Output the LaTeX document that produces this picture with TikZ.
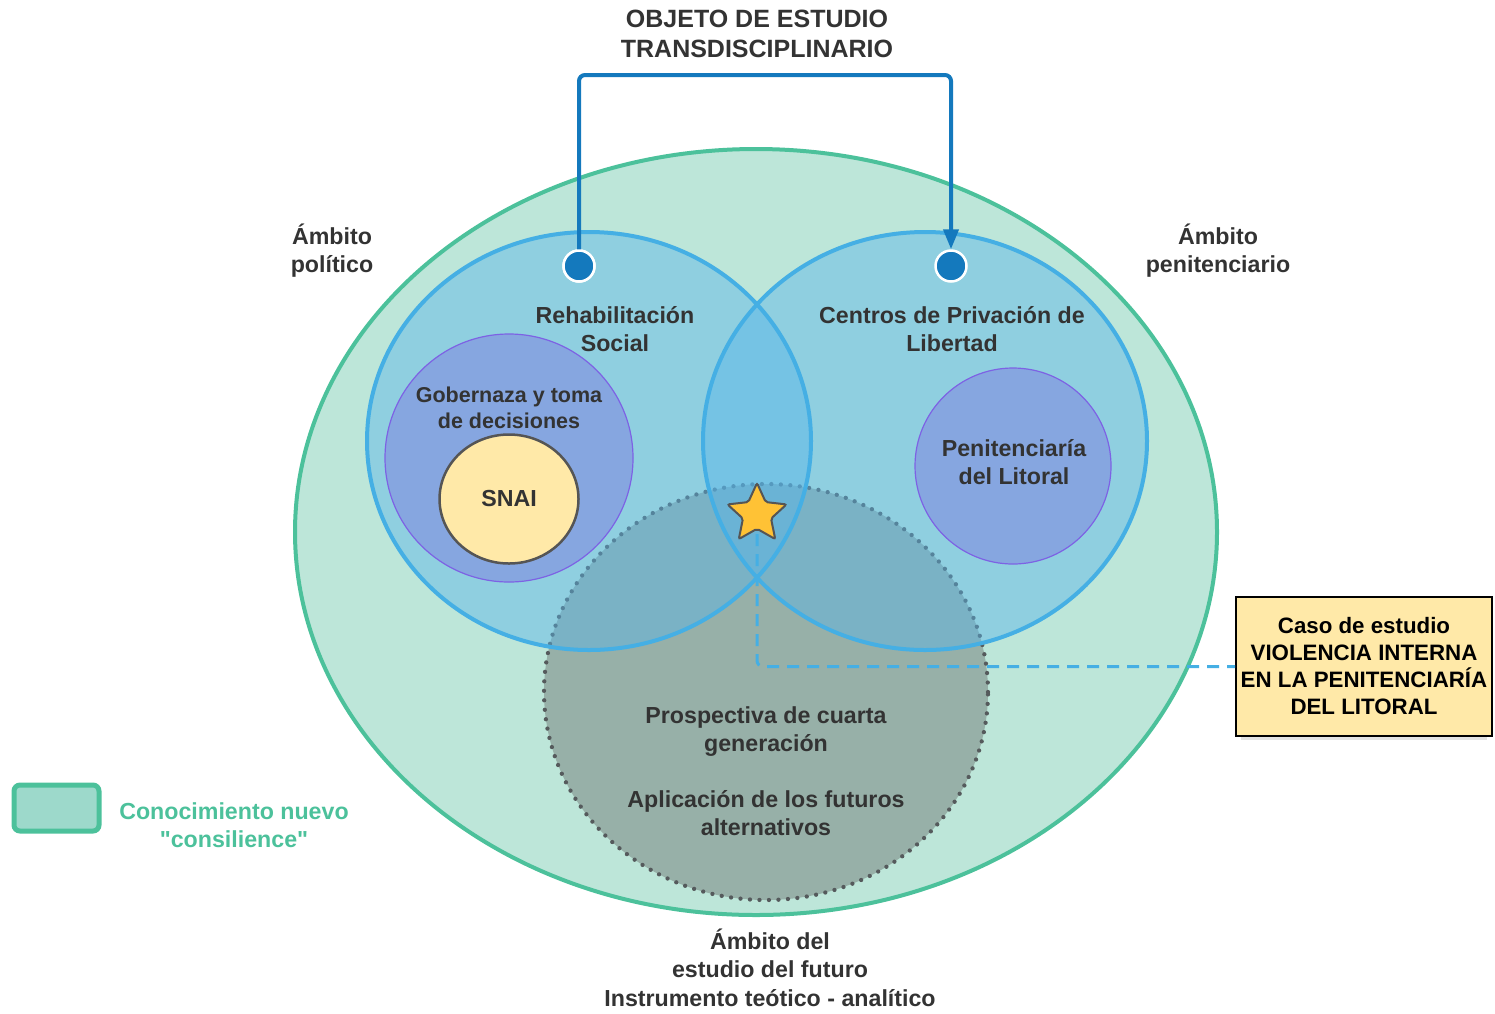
\documentclass[tikz,border=0pt]{standalone}
\usepackage{fontspec}
\setmainfont{Liberation Sans}[Ligatures=TeXOff]
\usetikzlibrary{arrows.meta,shapes.geometric,shadows}
\definecolor{grn}{RGB}{76,193,155}
\definecolor{outerfill}{RGB}{189,230,217}
\definecolor{bluefill}{RGB}{87,181,233}
\definecolor{bluestroke}{RGB}{69,175,228}
\definecolor{grayfill}{RGB}{151,176,168}
\definecolor{dotcol}{RGB}{85,90,92}
\definecolor{innerfill}{RGB}{134,166,224}
\definecolor{innerline}{RGB}{125,98,228}
\definecolor{snaifill}{RGB}{255,233,168}
\definecolor{snailine}{RGB}{85,85,85}
\definecolor{darkblue}{RGB}{20,121,189}
\definecolor{starfill}{RGB}{255,194,53}
\definecolor{txt}{RGB}{51,51,51}
\definecolor{legfill}{RGB}{157,217,203}
\begin{document}
\begin{tikzpicture}[x=1pt,y=-1pt,
  lbl/.style={font=\bfseries\fontsize{23.2}{28}\selectfont, text=txt, align=center, inner sep=0pt},
  smalllbl/.style={font=\bfseries\fontsize{21.5}{26}\selectfont, text=txt, align=center, inner sep=0pt},
  titlelbl/.style={font=\bfseries\fontsize{25}{30}\selectfont, text=txt, align=center, inner sep=0pt},
  innercirc/.style={circle, fill=innerfill, draw=innerline, line width=1.2pt, inner sep=0pt},
  bdot/.style={circle, fill=darkblue, draw=white, line width=2.5pt, minimum size=31pt, inner sep=0pt},
  conn/.style={draw=darkblue, line width=4pt, rounded corners=6pt},
  dashline/.style={draw=bluestroke, line width=3pt, dash pattern=on 12pt off 8pt, rounded corners=6pt},
  bigring/.style={draw=bluestroke, line width=4pt},
  dotline/.style={draw=dotcol, line width=4.3pt, line cap=round, dash pattern=on 0pt off 9.5pt},
  starshape/.style={star, star points=5, star point ratio=2.1, minimum size=62pt, inner sep=0pt}
]
\useasboundingbox (0,0) rectangle (1495,1013);
% outer ellipse
\draw[grn, line width=4pt, fill=outerfill] (756,532) ellipse [x radius=461pt, y radius=383pt];
% future domain (grey, dotted)
\fill[grayfill] (766,692) ellipse [x radius=222pt, y radius=208pt];
\draw[dotline] (766,692) ellipse [x radius=222pt, y radius=208pt];
% big blue circles
\fill[bluefill, fill opacity=0.45] (589,441) ellipse [x radius=222pt, y radius=209pt];
\fill[bluefill, fill opacity=0.45] (925,441) ellipse [x radius=222pt, y radius=209pt];
\draw[bigring] (589,441) ellipse [x radius=222pt, y radius=209pt];
\draw[bigring] (925,441) ellipse [x radius=222pt, y radius=209pt];
% inner circles
\node[innercirc, minimum size=248pt] (gobc) at (509,458) {};
\node[ellipse, fill=snaifill, draw=snailine, line width=2.5pt, minimum width=139pt, minimum height=129pt, inner sep=0pt, font=\bfseries\fontsize{23.2}{28}\selectfont, text=txt] (snai) at (509,499) {SNAI};
\node[innercirc, minimum size=196pt] (penc) at (1013,466) {};
% top connector
\coordinate (topc) at (765,75);
\node[bdot] (dl) at (579,266) {};
\node[bdot] (dr) at (951,266) {};
\draw[conn, -{Triangle[length=20pt,width=15pt]}] (dl.center) -- (dl.center |- topc) -- (dr.center |- topc) -- (dr.north);
\node[bdot] at (dl) {};
% case box
\node[rectangle, fill=snaifill, draw=black, line width=2pt, minimum width=256pt, minimum height=139pt, inner sep=0pt,
  font=\bfseries\fontsize{22.3}{27}\selectfont, text=black, align=center,
  drop shadow={shadow xshift=0pt, shadow yshift=-7pt, opacity=0.22, shadow scale=0.96}] (case) at (1364,666.5)
  {Caso de estudio\\VIOLENCIA INTERNA\\EN LA PENITENCIARÍA\\DEL LITORAL};
% star and dashed link
\node[starshape] (starpos) at (757,514) {};
\draw[dashline] (starpos.center) -- (starpos.center |- case.west) -- (case.west);
\node[starshape, fill=starfill, draw=snailine, line width=2pt, rounded corners=2pt] (star) at (757,514) {};
% legend
\node[draw=grn, line width=5pt, fill=legfill, rounded corners=6pt, minimum width=85pt, minimum height=46pt, inner sep=0pt] (leg) at (56.5,808) {};
\node[lbl, text=grn] (legt) at (234,825) {Conocimiento nuevo\\"consilience"};
% labels
\node[titlelbl] (title) at (757,33.5) {OBJETO DE ESTUDIO\\TRANSDISCIPLINARIO};
\node[lbl] (ampol) at (332,251) {Ámbito\\político};
\node[lbl] (ampen) at (1218,251) {Ámbito\\penitenciario};
\node[lbl] (rehab) at (615,329.5) {Rehabilitación\\Social};
\node[lbl] (centros) at (952,329.5) {Centros de Privación de\\Libertad};
\node[smalllbl] (gob) at (509,408) {Gobernaza y toma\\de decisiones};
\node[lbl] (pent) at (1014,462.5) {Penitenciaría\\del Litoral};
\node[lbl] (prosp) at (766,771.5) {Prospectiva de cuarta\\generación\\[28pt]Aplicación de los futuros\\alternativos};
\node[lbl, font=\bfseries\fontsize{23.2}{28.5}\selectfont] (amfut) at (770,967.5) {Ámbito del\\estudio del futuro\\Instrumento teótico - analítico};
\end{tikzpicture}
\end{document}
